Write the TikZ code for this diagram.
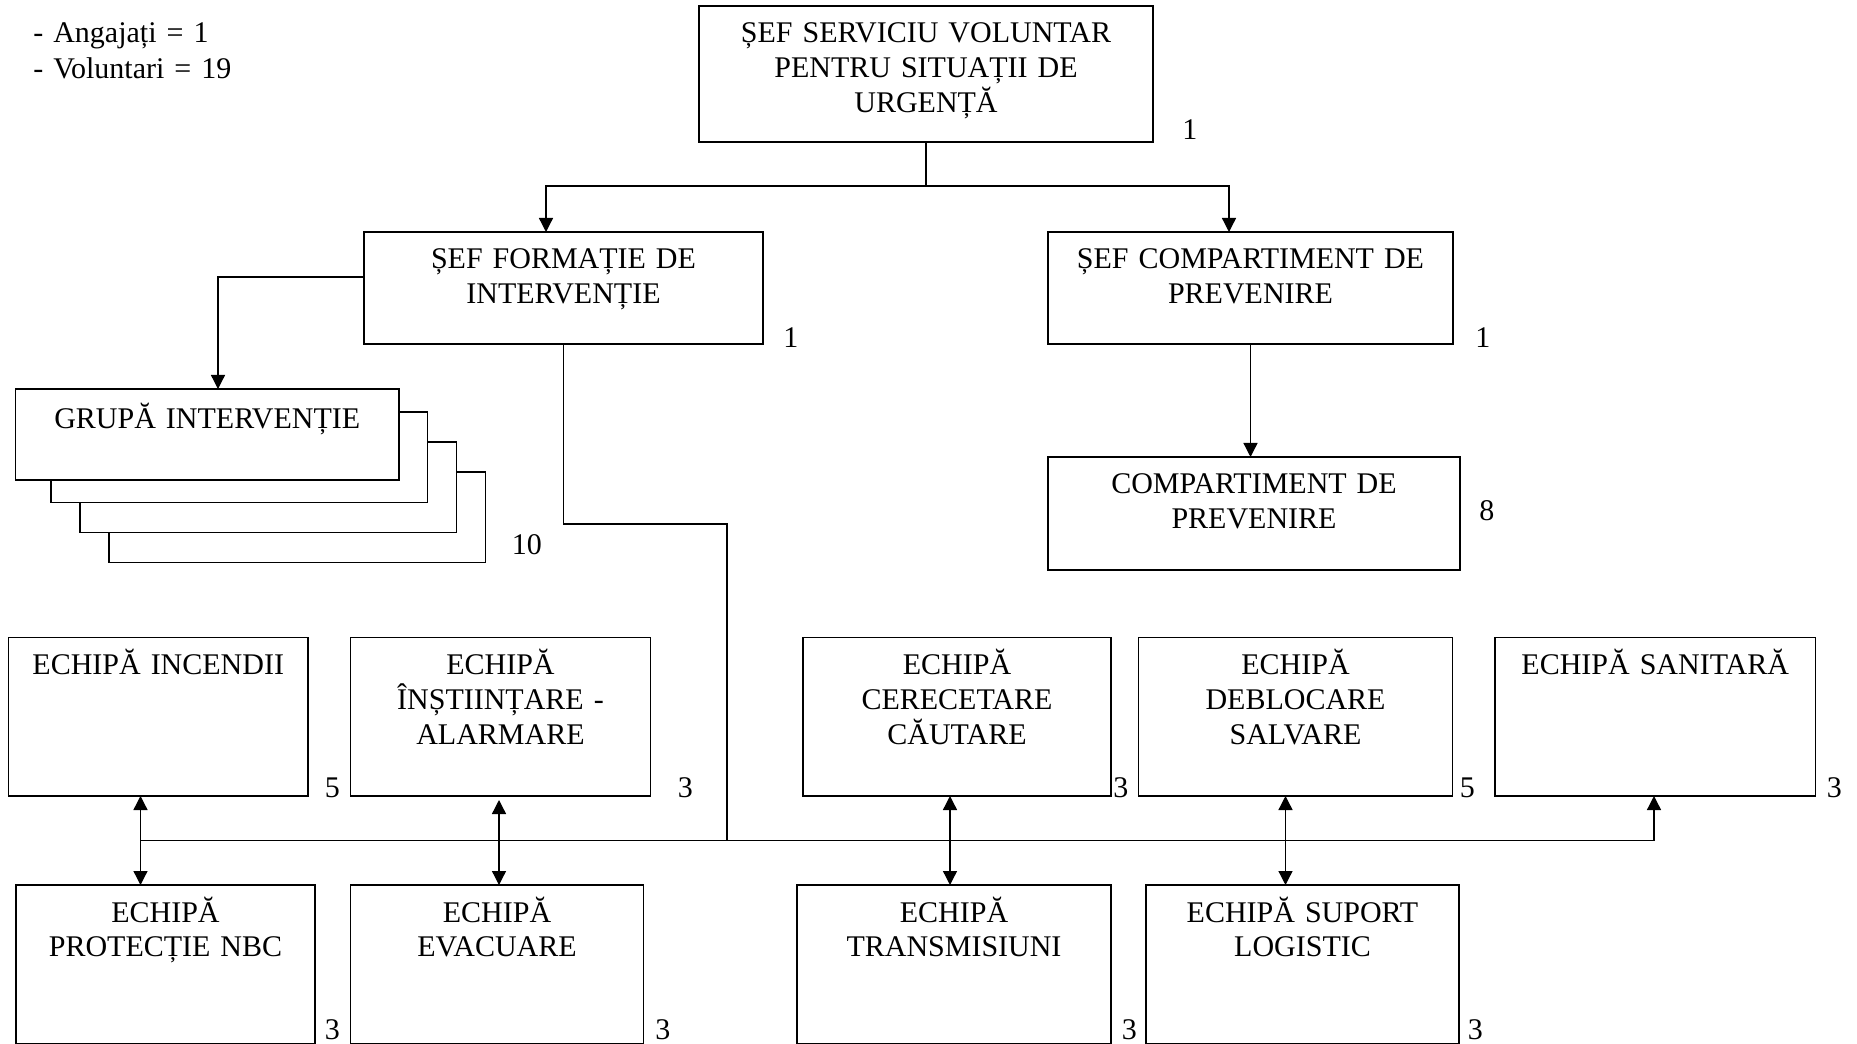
\documentclass[tikz,border=0pt]{standalone}
\usepackage{fontspec}
\setmainfont{Liberation Serif}
\usetikzlibrary{arrows.meta, positioning, calc}

\begin{document}
\begin{tikzpicture}[
    box/.style={rectangle, draw, line width=0.9pt, fill=white, inner sep=0pt, outer sep=0pt, align=center, text height=0.74cm, font=\fontsize{17.07}{19.8}\selectfont},
    lead/.style={box, text depth=1.50cm},
    team/.style={box, text depth=2.43cm},
    count/.style={inner sep=0pt, anchor=south west, font=\fontsize{17.07}{19.8}\selectfont},
    arrow/.style={-{Triangle[length=2.8mm, width=2.8mm]}, line width=0.75pt},
    both/.style={{Triangle[length=2.8mm, width=2.8mm]}-{Triangle[length=2.8mm, width=2.8mm]}, line width=0.75pt},
    link/.style={line width=0.75pt}
]
    \useasboundingbox (0,0) rectangle (37.14,-20.88);

    \node[anchor=north west, inner sep=0pt, text width=5cm, align=left, text height=0.42cm, font=\fontsize{17.07}{20.5}\selectfont] (staff) at (0.66,-0.42) {- Angajați = 1\\- Voluntari = 19};

    % conducere
    \node[box, text width=9.08cm, text depth=1.98cm, anchor=north west] (sef) at (13.98,-0.12) {ȘEF SERVICIU VOLUNTAR\\PENTRU SITUAȚII DE\\URGENȚĂ};
    \node[lead, text width=7.98cm, anchor=north west] (formatie) at (7.28,-4.64) {ȘEF FORMAȚIE DE\\INTERVENȚIE};
    \node[lead, text width=8.10cm, right=5.70cm of formatie] (sefcomp) {ȘEF COMPARTIMENT DE\\PREVENIRE};
    \node[lead, text width=8.24cm, text depth=1.52cm, below=2.26cm of sefcomp.south west, anchor=north west] (comp) {COMPARTIMENT DE\\PREVENIRE};

    % grupa (teanc de foi)
    \foreach \dx/\dy in {1.87/1.66, 1.29/1.06, 0.71/0.46}
        \draw[line width=0.9pt, fill=white] (0.31+\dx,-7.78-\dy) rectangle ++(7.53,-1.81);
    \node[box, text width=7.67cm, text height=0.80cm, text depth=1.02cm, anchor=north west] (grupa) at (0.31,-7.78) {GRUPĂ INTERVENȚIE};

    % echipe
    \node[team, text width=5.99cm, anchor=north west] (incendii) at (0.17,-12.75) {ECHIPĂ INCENDII};
    \node[team, text width=6.00cm, right=0.85cm of incendii] (instiintare) {ECHIPĂ\\ÎNȘTIINȚARE -\\ALARMARE};
    \node[team, text width=6.16cm, right=3.05cm of instiintare] (cercetare) {ECHIPĂ\\CERECETARE\\CĂUTARE};
    \node[team, text width=6.28cm, right=0.55cm of cercetare] (deblocare) {ECHIPĂ\\DEBLOCARE\\SALVARE};
    \node[team, text width=6.41cm, right=0.85cm of deblocare] (sanitara) {ECHIPĂ SANITARĂ};

    \node[team, text width=5.98cm, anchor=north west] (protectie) at (0.32,-17.70) {ECHIPĂ\\PROTECȚIE NBC};
    \node[team, text width=5.86cm, right=0.71cm of protectie] (evacuare) {ECHIPĂ\\EVACUARE};
    \node[team, text width=6.28cm, right=3.07cm of evacuare] (transmisiuni) {ECHIPĂ\\TRANSMISIUNI};
    \node[team, text width=6.26cm, right=0.70cm of transmisiuni] (suport) {ECHIPĂ SUPORT\\LOGISTIC};

    % efective
    \node[count] (nsef) at ([xshift=0.58cm, yshift=0.04cm]sef.south east) {1};
    \node[count] (nformatie) at ([xshift=0.40cm, yshift=-0.07cm]formatie.south east) {1};
    \node[count] (nsefcomp) at ([xshift=0.44cm, yshift=-0.08cm]sefcomp.south east) {1};
    \node[count, anchor=west] (ncomp) at ([xshift=0.38cm, yshift=0.05cm]comp.east) {8};
    \node[count] (ngrupa) at (10.23,-11.10) {10};
    \node[count] (nincendii) at ([xshift=0.33cm, yshift=-0.04cm]incendii.south east) {5};
    \node[count] (ninstiintare) at ([xshift=0.54cm, yshift=-0.04cm]instiintare.south east) {3};
    \node[count] (ncercetare) at ([xshift=0.04cm, yshift=-0.04cm]cercetare.south east) {3};
    \node[count] (ndeblocare) at ([xshift=0.14cm, yshift=-0.04cm]deblocare.south east) {5};
    \node[count] (nsanitara) at ([xshift=0.22cm, yshift=-0.04cm]sanitara.south east) {3};
    \node[count] (nprotectie) at ([xshift=0.19cm, yshift=0.07cm]protectie.south east) {3};
    \node[count] (nevacuare) at ([xshift=0.23cm, yshift=0.07cm]evacuare.south east) {3};
    \node[count] (ntransmisiuni) at ([xshift=0.21cm, yshift=0.07cm]transmisiuni.south east) {3};
    \node[count] (nsuport) at ([xshift=0.17cm, yshift=0.07cm]suport.south east) {3};

    % legaturi
    \coordinate (split) at ($(sef.south)+(0,-0.88)$);
    \draw[link] (sef.south) -- (split);
    \draw[arrow] (split) -| ([xshift=-0.35cm]formatie.north);
    \draw[arrow] (split) -| ([xshift=-0.43cm]sefcomp.north);
    \draw[arrow] (sefcomp.south) -- (sefcomp.south |- comp.north);
    \draw[arrow] ([yshift=0.22cm]formatie.west) -| ([xshift=0.215cm]grupa.north);

    \coordinate (bend) at (14.54,-10.48);
    \coordinate (bus) at (14.54,-16.81);
    \draw[link] (formatie.south) |- (bend) -- (bus);

    \coordinate (tapA) at (2.81,-16.81);
    \coordinate (tapB) at (9.98,-16.81);
    \coordinate (tapC) at (19.00,-16.81);
    \coordinate (tapD) at (25.71,-16.81);
    \coordinate (tapE) at (33.08,-16.81);
    \draw[link] (tapA) -- (tapE);

    \draw[both] (tapA |- incendii.south) -- (tapA |- protectie.north);
    \draw[both, shorten <=0.08cm] (tapB |- instiintare.south) -- (tapB |- evacuare.north);
    \draw[both] (tapC |- cercetare.south) -- (tapC |- transmisiuni.north);
    \draw[both] (tapD |- deblocare.south) -- (tapD |- suport.north);
    \draw[arrow] (tapE) -- (tapE |- sanitara.south);
\end{tikzpicture}
\end{document}
